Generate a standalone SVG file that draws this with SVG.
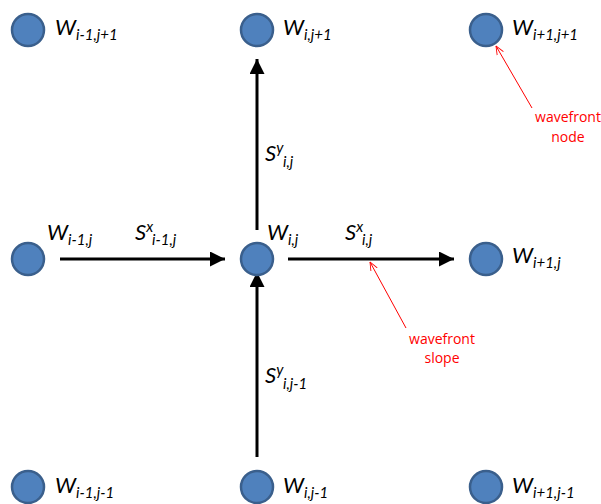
<svg xmlns="http://www.w3.org/2000/svg" width="601" height="504" viewBox="0 0 601 504">
<style>
.n{fill:#4F81BD;stroke:#3A5F8C;stroke-width:2.5}
.lb{font-family:Lato,"Open Sans","Liberation Sans",sans-serif;font-style:italic;fill:#000}
.big{font-size:22px}
.sub{font-size:15px}
.red{font-family:"Open Sans","Liberation Sans",sans-serif;font-size:14px;fill:#FF0000}
.ar{stroke:#000;stroke-width:3;fill:none;marker-end:url(#ah)}
.ra{stroke:#FF0000;stroke-width:1;fill:none;marker-end:url(#rh)}
</style>
<defs>
<marker id="ah" viewBox="0 0 10 10" refX="10" refY="5" markerWidth="5.5" markerHeight="5" markerUnits="strokeWidth" orient="auto">
<path d="M0,0L10,5L0,10z" fill="#000"/>
</marker>
<marker id="rh" viewBox="0 0 10 10" refX="9.5" refY="5" markerWidth="9" markerHeight="9" markerUnits="strokeWidth" orient="auto">
<path d="M0,1L9.5,5L0,9" fill="none" stroke="#FF0000" stroke-width="1"/>
</marker>
</defs>
<rect width="601" height="504" fill="#fff"/>
<g id="connectors">
<line class="ar" x1="60" y1="259" x2="225" y2="259"/>
<line class="ar" x1="288" y1="259" x2="454" y2="259"/>
<line class="ar" x1="257" y1="230" x2="257" y2="59"/>
<line class="ar" x1="257" y1="457" x2="257" y2="272"/>
<line class="ra" x1="532" y1="108" x2="496" y2="46"/>
<line class="ra" x1="406" y1="328" x2="370" y2="262"/>
</g>
<g id="n_im1_jp1"><circle class="n" cx="28" cy="30" r="16"/><text class="lb" x="55" y="35"><tspan class="big">W</tspan><tspan class="sub" dy="5">i-1,j+1</tspan></text></g>
<g id="n_i_jp1"><circle class="n" cx="257" cy="30" r="16"/><text class="lb" x="283" y="35"><tspan class="big">W</tspan><tspan class="sub" dy="5">i,j+1</tspan></text></g>
<g id="n_ip1_jp1"><circle class="n" cx="486" cy="30" r="16"/><text class="lb" x="512" y="35"><tspan class="big">W</tspan><tspan class="sub" dy="5">i+1,j+1</tspan></text></g>
<g id="n_im1_j"><circle class="n" cx="28" cy="259" r="16"/><text class="lb" x="47" y="240"><tspan class="big">W</tspan><tspan class="sub" dy="5">i-1,j</tspan></text></g>
<g id="n_i_j"><circle class="n" cx="257" cy="259" r="16"/><text class="lb" x="267" y="240"><tspan class="big">W</tspan><tspan class="sub" dy="5">i,j</tspan></text></g>
<g id="n_ip1_j"><circle class="n" cx="486" cy="259" r="16"/><text class="lb" x="512" y="263"><tspan class="big">W</tspan><tspan class="sub" dy="5">i+1,j</tspan></text></g>
<g id="n_im1_jm1"><circle class="n" cx="28" cy="487" r="16"/><text class="lb" x="55" y="493"><tspan class="big">W</tspan><tspan class="sub" dy="5">i-1,j-1</tspan></text></g>
<g id="n_i_jm1"><circle class="n" cx="257" cy="487" r="16"/><text class="lb" x="283" y="493"><tspan class="big">W</tspan><tspan class="sub" dy="5">i,j-1</tspan></text></g>
<g id="n_ip1_jm1"><circle class="n" cx="486" cy="487" r="16"/><text class="lb" x="512" y="493"><tspan class="big">W</tspan><tspan class="sub" dy="5">i+1,j-1</tspan></text></g>
<g id="labels">
<text class="lb" x="135" y="240"><tspan class="big">S</tspan><tspan class="sub" dy="-8">x</tspan><tspan class="sub" x="152" dy="13">i-1,j</tspan></text>
<text class="lb" x="345" y="240"><tspan class="big">S</tspan><tspan class="sub" dy="-8">x</tspan><tspan class="sub" x="362" dy="13">i,j</tspan></text>
<text class="lb" x="265" y="161"><tspan class="big">S</tspan><tspan class="sub" dy="-8">y</tspan><tspan class="sub" x="283" dy="14">i,j</tspan></text>
<text class="lb" x="265" y="383"><tspan class="big">S</tspan><tspan class="sub" dy="-8">y</tspan><tspan class="sub" x="283" dy="14">i,j-1</tspan></text>
<text class="red" x="568" y="122" text-anchor="middle">wavefront</text>
<text class="red" x="568" y="142" text-anchor="middle">node</text>
<text class="red" x="442" y="344" text-anchor="middle">wavefront</text>
<text class="red" x="442" y="363" text-anchor="middle">slope</text>
</g>
</svg>
